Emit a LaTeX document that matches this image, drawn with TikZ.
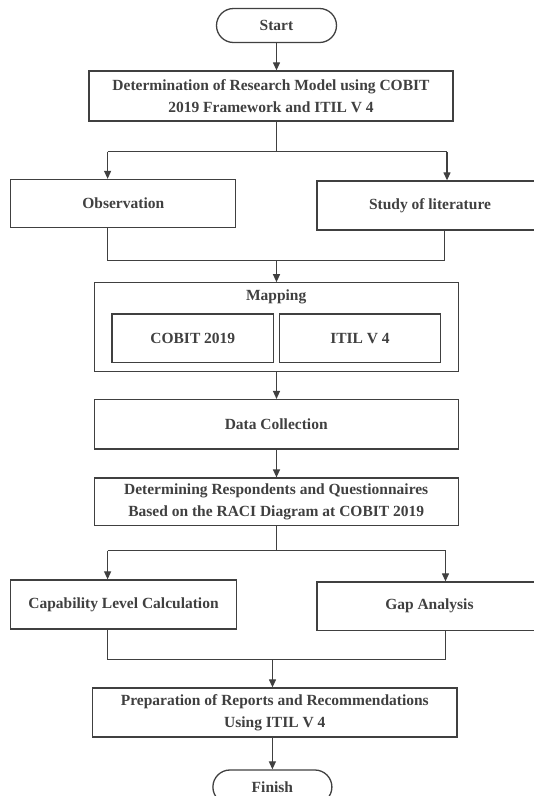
\documentclass[tikz,border=0pt]{standalone}
\usepackage{fontspec}
\setmainfont{Liberation Serif}
\usetikzlibrary{arrows.meta}
\definecolor{ink}{HTML}{404040}

\begin{document}
\begin{tikzpicture}[x=1pt,y=-1pt]
\tikzstyle{every node}+=[inner sep=0pt, text=ink, font=\fontsize{15.5}{22}\selectfont\bfseries]
\tikzstyle{box}=[draw=ink, line width=1.3pt, rectangle, align=center]
\tikzstyle{term}=[box, rounded corners=17pt]
\tikzstyle{line}=[draw=ink, line width=1.2pt]
\tikzstyle{arr}=[line, -{Triangle[length=8pt,width=7pt]}]
\useasboundingbox (0,0) rectangle (534,796);
\clip (0,0) rectangle (534,796);
% terminals and steps
\node [term, minimum width=120, minimum height=34] (start) at (276.5,25.5) {Start};
\node [box, minimum width=364, minimum height=50] (model) at (271,96) {Determination of Research Model using COBIT\\2019 Framework and ITIL V 4};
\node [box, minimum width=225, minimum height=48] (obs) at (123.3,203.5) {Observation};
\node [box, minimum width=226, minimum height=49] (lit) at (430,205.5) {Study of literature};
\node [box, minimum width=364, minimum height=89] (map) at (276.2,327.3) {};
\node (maptitle) at (276.2,296.8) {Mapping};
\node [box, minimum width=161.5, minimum height=48.7] (cobit) at (192.8,338.2) {COBIT 2019};
\node [box, minimum width=161.5, minimum height=48.7] (itil) at (360,338.2) {ITIL V 4};
\node [box, minimum width=364, minimum height=49.4] (data) at (276.2,424.3) {Data Collection};
\node [box, minimum width=364, minimum height=47.7] (raci) at (276.2,501.9) {Determining Respondents and Questionnaires\\Based on the RACI Diagram at COBIT 2019};
\node [box, minimum width=226, minimum height=49] (cap) at (123.5,604.5) {Capability Level Calculation};
\node [box, minimum width=225, minimum height=48.4] (gap) at (429.4,606.2) {Gap Analysis};
\node [box, minimum width=364.4, minimum height=49] (prep) at (274.8,712.5) {Preparation of Reports and Recommendations\\Using ITIL V 4};
\node [term, minimum width=119, minimum height=34] (finish) at (272.4,787) {Finish};
% branch and join points
\coordinate (b1) at (276.5,151.5);
\coordinate (b1l) at (107.6,151.5);
\coordinate (b1r) at (447,151.5);
\coordinate (j1) at (276.5,260.5);
\coordinate (j1l) at (107.6,260.5);
\coordinate (j1r) at (444.8,260.5);
\coordinate (b2) at (276.5,550.7);
\coordinate (b2l) at (107.6,550.7);
\coordinate (b2r) at (445.5,550.7);
\coordinate (j2) at (272.5,659.6);
\coordinate (j2l) at (107.6,659.6);
\coordinate (j2r) at (445.5,659.6);
% connectors
\draw [arr] (start) -- (start |- model.north);
\draw [line] (model.south -| b1) -- (b1);
\draw [line] (b1l) -- (b1r);
\draw [arr] (b1l) -- (b1l |- obs.north);
\draw [arr] (b1r) -- (b1r |- lit.north);
\draw [line] (obs.south -| j1l) -- (j1l) -- (j1r) -- (lit.south -| j1r);
\draw [arr] (j1) -- (j1 |- map.north);
\draw [arr] (map.south -| j1) -- (data.north -| j1);
\draw [arr] (data.south -| j1) -- (raci.north -| j1);
\draw [line] (raci.south -| b2) -- (b2);
\draw [line] (b2l) -- (b2r);
\draw [arr] (b2l) -- (b2l |- cap.north);
\draw [arr] (b2r) -- (b2r |- gap.north);
\draw [line] (cap.south -| j2l) -- (j2l) -- (j2r) -- (gap.south -| j2r);
\draw [arr] (j2) -- (j2 |- prep.north);
\draw [arr] (prep.south -| finish) -- (finish.north);
\end{tikzpicture}
\end{document}
